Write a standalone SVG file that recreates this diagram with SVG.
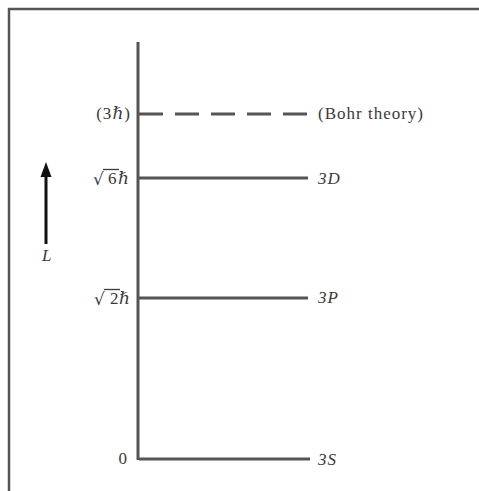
<svg xmlns="http://www.w3.org/2000/svg" width="479" height="491" viewBox="0 0 479 491">
<style>
.t{font-family:"Liberation Serif","DejaVu Serif",serif;font-size:17px;fill:#3a3a3a;letter-spacing:1px}
.i{font-style:italic}
.r{font-family:"DejaVu Sans",sans-serif;font-size:17px;fill:#3a3a3a}
.ln{stroke:#555;stroke-width:3;fill:none}
.ov{stroke:#3a3a3a;stroke-width:1.3}
</style>
<rect width="479" height="491" fill="#fff"/>
<g id="frame"><path d="M9,491 V9 H479" stroke="#555" stroke-width="2.5" fill="none"/></g>
<g id="axis"><line class="ln" x1="138" y1="42" x2="138" y2="460"/><text class="t" x="128" y="464" text-anchor="end">0</text></g>
<g id="connectors">
<line class="ln" x1="139" y1="114" x2="308" y2="114" stroke-dasharray="24 12"/>
<line class="ln" x1="139" y1="178" x2="308" y2="178"/>
<line class="ln" x1="139" y1="298" x2="308" y2="298"/>
<line class="ln" x1="139" y1="459" x2="310" y2="459"/>
</g>
<g id="bohr"><text class="t" x="131" y="119" text-anchor="end">(3<tspan class="i">ℏ</tspan>)</text><text class="t" x="318" y="119" letter-spacing="1.5">(Bohr theory)</text></g>
<g id="level3D"><text class="r" x="93" y="185">√</text><line class="ov" x1="103" y1="169.5" x2="119" y2="169.5"/><text class="t" x="108" y="184">6</text><text class="t i" x="118" y="184">ℏ</text><text class="t i" x="318" y="184">3D</text></g>
<g id="level3P"><text class="r" x="94" y="305">√</text><line class="ov" x1="104" y1="289.5" x2="120" y2="289.5"/><text class="t" x="110" y="304">2</text><text class="t i" x="119" y="304">ℏ</text><text class="t i" x="318" y="303">3P</text></g>
<g id="level3S"><text class="t i" x="318" y="465">3S</text></g>
<g id="Larrow"><line x1="46" y1="244" x2="46" y2="175" stroke="#111" stroke-width="3"/><path d="M46,162 L51.5,177 L40.5,177 Z" fill="#111"/><text class="t i" x="42" y="261">L</text></g>
</svg>
